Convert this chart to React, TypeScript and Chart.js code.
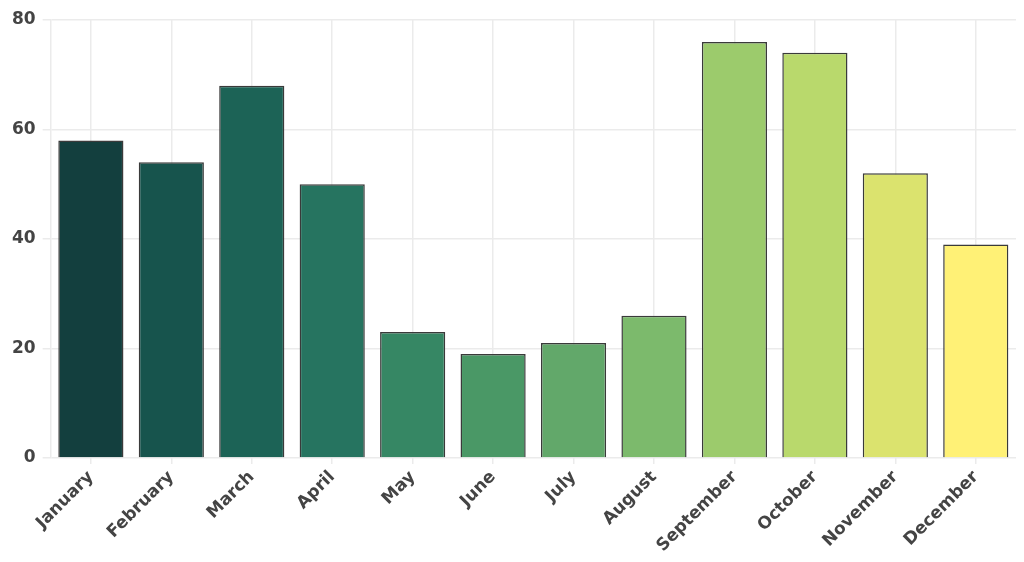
import { useEffect, useRef } from "react"
import { Chart, registerables } from "chart.js"

Chart.register(...registerables)

const months = [
  "January", "February", "March", "April", "May", "June",
  "July", "August", "September", "October", "November", "December",
]
const values = [58, 54, 68, 50, 23, 19, 21, 26, 76, 74, 52, 39]
const barColors = [
  "#133f3e", "#17544d", "#1c6356", "#267460", "#368764", "#4a9866",
  "#62a86a", "#7cba6c", "#9ccb6c", "#b9d96c", "#dbe36e", "#fff176",
]
const yTicks = [0, 20, 40, 60, 80]

export default function App() {
  const chartRef = useRef<HTMLCanvasElement | null>(null)
  const chartInstance = useRef<Chart | null>(null)

  useEffect(() => {
    if (!chartRef.current) return
    document.body.style.margin = "0"

    if (chartInstance.current) {
      chartInstance.current.destroy()
    }

    const ctx = chartRef.current.getContext("2d")
    if (!ctx) return

    chartInstance.current = new Chart(ctx, {
      type: "bar",
      data: {
        labels: months,
        datasets: [
          {
            data: values,
            backgroundColor: barColors,
            borderColor: "#3a3a3a",
            borderWidth: 1.5,
            categoryPercentage: 0.9,
            barPercentage: 0.9,
          },
        ],
      },
      options: {
        responsive: true,
        maintainAspectRatio: false,
        animation: false,
        layout: {
          padding: { top: 20, right: 8, left: 5, bottom: 3 },
        },
        plugins: {
          legend: { display: false },
          tooltip: { enabled: false },
        },
        scales: {
          x: {
            grid: {
              offset: false,
              color: "#ebebeb",
              lineWidth: 1.5,
              tickLength: 6,
            },
            border: { display: false },
            ticks: {
              color: "#444",
              maxRotation: 45,
              minRotation: 45,
              font: { family: "'DejaVu Sans'", size: 17, weight: "bold" },
            },
          },
          y: {
            min: 0,
            max: 80,
            afterBuildTicks: (axis) => {
              axis.ticks = yTicks.map((v) => ({ value: v }))
            },
            grid: {
              color: "#ebebeb",
              lineWidth: 1.5,
              tickLength: 8,
            },
            border: { color: "#ebebeb", width: 1.5 },
            ticks: {
              color: "#444",
              padding: 7,
              font: { family: "'DejaVu Sans'", size: 17, weight: "bold" },
            },
          },
        },
      },
    })

    return () => {
      if (chartInstance.current) {
        chartInstance.current.destroy()
        chartInstance.current = null
      }
    }
  }, [])

  return (
    <div style={{ width: "1024px", height: "562px", position: "relative" }}>
      <canvas ref={chartRef} />
    </div>
  )
}
